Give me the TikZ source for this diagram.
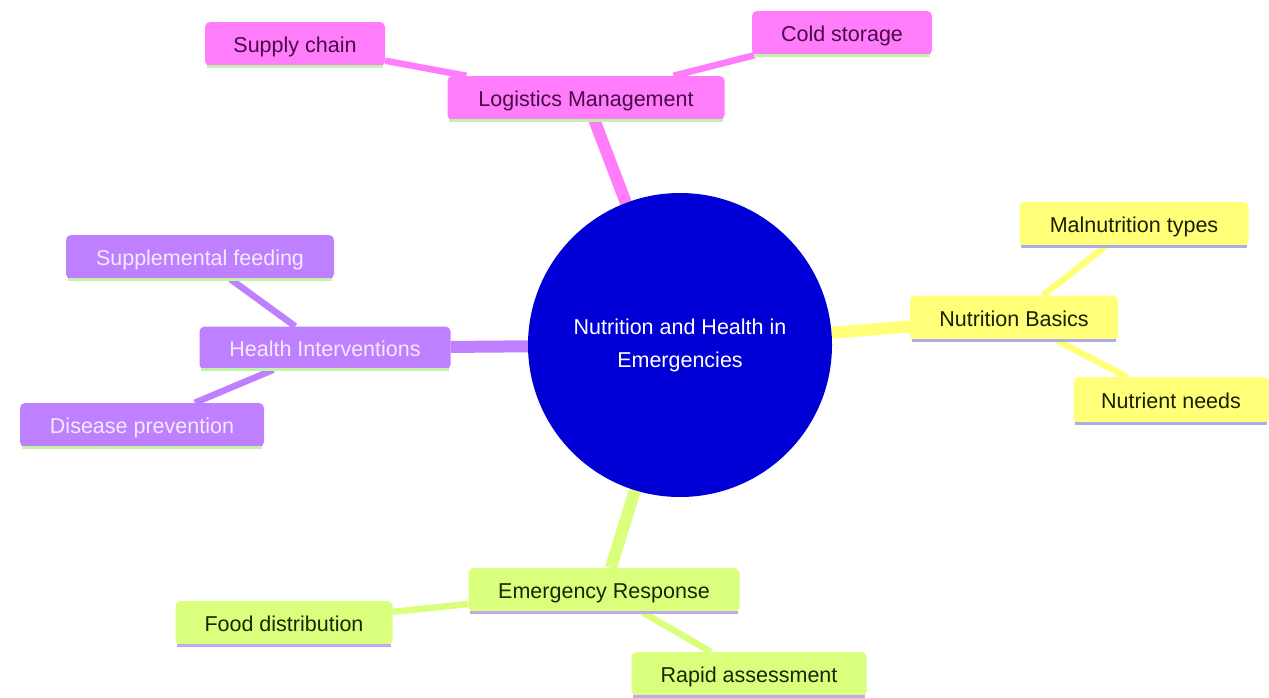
\documentclass[tikz,border=0pt]{standalone}
\usepackage{fontspec}
\setmainfont{Liberation Sans}
\usetikzlibrary{backgrounds}
\definecolor{pinkf}{HTML}{FF7CFA}
\definecolor{pinkt}{HTML}{4A0A48}
\definecolor{yelf}{HTML}{FFFF78}
\definecolor{yelt}{HTML}{1E1E05}
\definecolor{purf}{HTML}{BF80FF}
\definecolor{purt}{HTML}{F4EAFF}
\definecolor{grnf}{HTML}{DAFF7C}
\definecolor{grnt}{HTML}{1C2605}
\definecolor{ulgreen}{HTML}{C4F2A8}
\definecolor{ullav}{HTML}{ADADE6}
\definecolor{ulpur}{HTML}{C2A8EE}
\definecolor{rootf}{HTML}{0000D6}
\tikzset{
  mm/.style={rounded corners=5pt, inner sep=0pt, minimum height=44pt, align=center,
    text height=19pt, text depth=3pt,
    font=\fontsize{21.5}{33}\selectfont},
  pinkbox/.style={mm, fill=pinkf, text=pinkt},
  yelbox/.style={mm, fill=yelf, text=yelt},
  purbox/.style={mm, fill=purf, text=purt},
  grnbox/.style={mm, fill=grnf, text=grnt},
  rootnode/.style={circle, fill=rootf, text=white, minimum size=304pt, inner sep=0pt,
    align=center, font=\fontsize{21.5}{33}\selectfont},
  edgeA/.style={line width=12pt, draw=#1},
  edgeB/.style={line width=6.5pt, draw=#1},
  ul/.style={line width=3pt, draw=#1}
}
\begin{document}
\begin{tikzpicture}[x=1pt,y=-1pt]
\useasboundingbox (0,0) rectangle (1269,697);
\node[rootnode] (root) at (680,345) {Nutrition and Health in\\Emergencies};
% Logistics
\node[pinkbox, minimum width=277pt] (log) at (586,98) {Logistics Management};
\node[pinkbox, minimum width=180pt] (sup) at (295,44) {Supply chain};
\node[pinkbox, minimum width=180pt] (cold) at (842,33) {Cold storage};
% Nutrition basics
\node[yelbox, minimum width=208pt, minimum height=45pt] (nb) at (1014,318) {Nutrition Basics};
\node[yelbox, minimum width=229pt] (mal) at (1134,224) {Malnutrition types};
\node[yelbox, minimum width=195pt, minimum height=46pt] (nn) at (1171,400) {Nutrient needs};
% Health interventions
\node[purbox, minimum width=251pt, minimum height=43pt] (hi) at (325,348) {Health Interventions};
\node[purbox, minimum width=268pt] (sf) at (200,257) {Supplemental feeding};
\node[purbox, minimum width=244pt] (dp) at (142,425) {Disease prevention};
% Emergency response
\node[grnbox, minimum width=271pt] (er) at (604,590) {Emergency Response};
\node[grnbox, minimum width=217pt] (fd) at (284,623) {Food distribution};
\node[grnbox, minimum width=235pt] (ra) at (749,674) {Rapid assessment};
% underlines
\foreach \n/\c in {log/ulgreen, sup/ulgreen, cold/ulgreen, nb/ullav, mal/ullav, nn/ullav,
  hi/ulgreen, sf/ulgreen, dp/ulgreen, er/ulpur, fd/ulpur, ra/ulpur}
  \draw[ul=\c] ([xshift=2pt]\n.south west) -- ([xshift=-2pt]\n.south east);
\begin{scope}[on background layer]
  \draw[edgeA=pinkf] (root) -- (log);
  \draw[edgeA=yelf] (root) -- (nb);
  \draw[edgeA=purf] (root) -- (hi);
  \draw[edgeA=grnf] (root) -- (er);
  \draw[edgeB=pinkf] (log) -- (sup);
  \draw[edgeB=pinkf] (log) -- (cold);
  \draw[edgeB=yelf] (nb) -- (mal);
  \draw[edgeB=yelf] (nb) -- (nn);
  \draw[edgeB=purf] (hi) -- (sf);
  \draw[edgeB=purf] (hi) -- (dp);
  \draw[edgeB=grnf] (er) -- (fd);
  \draw[edgeB=grnf] (er) -- (ra);
\end{scope}
\end{tikzpicture}
\end{document}
